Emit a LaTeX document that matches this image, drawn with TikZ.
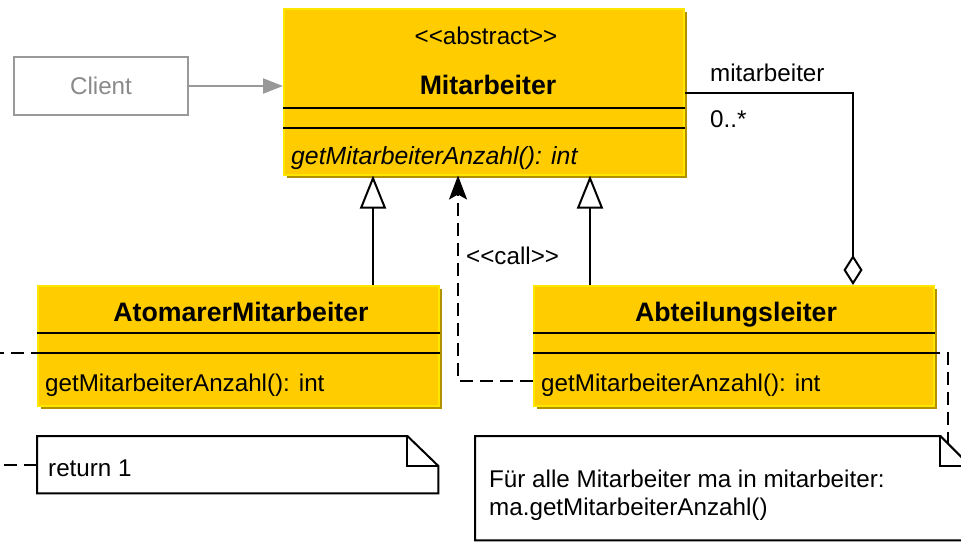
\documentclass[tikz,border=0pt]{standalone}
\usepackage{fontspec}
\setmainfont{Liberation Sans}
\usetikzlibrary{arrows.meta,shadows,calc}
\definecolor{gold}{HTML}{FFCC00}
\definecolor{goldborder}{HTML}{FFE600}
\definecolor{goldshadow}{HTML}{B39000}
\definecolor{clientgray}{HTML}{999999}
\definecolor{clienttext}{HTML}{8A8A8A}
\newcommand{\boldtitle}{\fontsize{26.7}{31}\selectfont\bfseries}
\newcommand{\itop}{\fontsize{24.8}{29}\selectfont\itshape}
\begin{document}
\begin{tikzpicture}[x=1pt,y=-1pt,
  every node/.style={font=\fontsize{24.2}{29}\selectfont},
  txt/.style={inner sep=0pt, anchor=base},
  ltxt/.style={inner sep=0pt, anchor=base west},
  clsbox/.style={draw=goldborder, line width=1.5pt, fill=gold, anchor=north west, inner sep=0pt,
    drop shadow={shadow xshift=3pt, shadow yshift=-3pt, fill=goldshadow, opacity=1}},
  clientbox/.style={draw=clientgray, line width=2pt, fill=white, text=clienttext,
    minimum width=174pt, minimum height=58pt, inner sep=0pt},
  sepline/.style={line width=2pt, black},
  gen/.style={line width=2pt, -{Triangle[open, length=33pt, width=26pt]}},
  callarrow/.style={line width=2pt, dash pattern=on 13pt off 7pt, -{Stealth[length=24pt, width=18pt, inset=5pt]}},
  noteline/.style={line width=2pt, dash pattern=on 13pt off 7pt},
  assoc/.style={line width=2pt, -{Diamond[open, length=30pt, width=19pt, fill=white]}},
  clientarrow/.style={line width=2pt, clientgray, -{Triangle[length=20pt, width=15pt]}},
  notebox/.style={line width=2pt}
]
\useasboundingbox (0,0) rectangle (961,542);
\clip (0,0) rectangle (961,542);

% coordinates for rows / columns
\coordinate (m1) at (0,108);
\coordinate (m2) at (0,128);
\coordinate (s1) at (0,333);
\coordinate (s2) at (0,353);
\coordinate (g1) at (373,0);
\coordinate (g2) at (590,0);
\coordinate (callrow) at (0,381);
\coordinate (callcol) at (458,0);
\coordinate (assocrow) at (0,93);
\coordinate (assoccol) at (853,0);
\coordinate (leftcol) at (-40,0);
\coordinate (rightend) at (948,444);

% classes
\node[clientbox] (client) at (101,86) {Client};

\node[clsbox, minimum width=400pt, minimum height=166pt] (mit) at (283,8) {};
\node[txt] (mitst) at (486,44) {<\kern0pt<abstract>\kern0pt>};
\node[txt] (mitname) at (488,94) {\boldtitle Mitarbeiter};
\draw[sepline] (mit.west |- m1) -- (mit.east |- m1);
\draw[sepline] (mit.west |- m2) -- (mit.east |- m2);
\node[ltxt] (mitop) at (291,164) {\itop getMitarbeiterAnzahl(): int};

\node[clsbox, minimum width=401pt, minimum height=120pt] (atom) at (37,285) {};
\node[txt] (atomname) at (241,321) {\boldtitle AtomarerMitarbeiter};
\draw[sepline] (atom.west |- s1) -- (atom.east |- s1);
\draw[sepline] (atom.west |- s2) -- (atom.east |- s2);
\node[ltxt] (atomop) at (45,391) {getMitarbeiterAnzahl(): int};

\node[clsbox, minimum width=400pt, minimum height=120pt] (abt) at (533,285) {};
\node[txt] (abtname) at (736,321) {\boldtitle Abteilungsleiter};
\draw[sepline] (abt.west |- s1) -- (abt.east |- s1);
\draw[sepline] (abt.west |- s2) -- (abt.east |- s2);
\node[ltxt] (abtop) at (541,391) {getMitarbeiterAnzahl(): int};

% notes
\node[anchor=north west, minimum width=401pt, minimum height=57pt, inner sep=0pt] (note1) at (37,436) {};
\draw[notebox] (note1.north west) -- ($(note1.north east)+(-31,0)$) -- ($(note1.north east)+(0,30)$)
  -- (note1.south east) -- (note1.south west) -- cycle;
\draw[notebox] ($(note1.north east)+(-31,0)$) -- ($(note1.north east)+(-31,30)$) -- ($(note1.north east)+(0,30)$);
\node[ltxt] (note1t) at (48,476) {return 1};

\node[anchor=north west, minimum width=495pt, minimum height=104pt, inner sep=0pt] (note2) at (475,436) {};
\draw[notebox] (note2.north west) -- ($(note2.north east)+(-30,0)$) -- ($(note2.north east)+(0,30)$)
  -- (note2.south east) -- (note2.south west) -- cycle;
\draw[notebox] ($(note2.north east)+(-30,0)$) -- ($(note2.north east)+(-30,30)$) -- ($(note2.north east)+(0,30)$);
\node[ltxt] (note2a) at (489,487) {Für alle Mitarbeiter ma in mitarbeiter:};
\node[ltxt] (note2b) at (489,515) {ma.getMitarbeiterAnzahl()};

% connectors
\draw[clientarrow] (client.east) -- (mit.west |- client.east);
\draw[gen] (atom.north -| g1) -- (mit.south -| g1);
\draw[gen] (abt.north -| g2) -- (mit.south -| g2);
\draw[callarrow] (abt.west |- callrow) -| (callcol |- mit.south);
\node[ltxt] (calllbl) at (466,264) {<\kern0pt<call>\kern0pt>};
\draw[assoc] (mit.east |- assocrow) -| (abt.north -| assoccol);
\node[ltxt] (rolelbl) at (710,81) {mitarbeiter};
\node[ltxt] (multlbl) at (710,127) {0..*};
\draw[noteline] (note1.west) -| (leftcol |- s2) -- (atom.west |- s2);
\draw[noteline, dash phase=8pt] (abt.east |- s2) -| (rightend);
\end{tikzpicture}
\end{document}
